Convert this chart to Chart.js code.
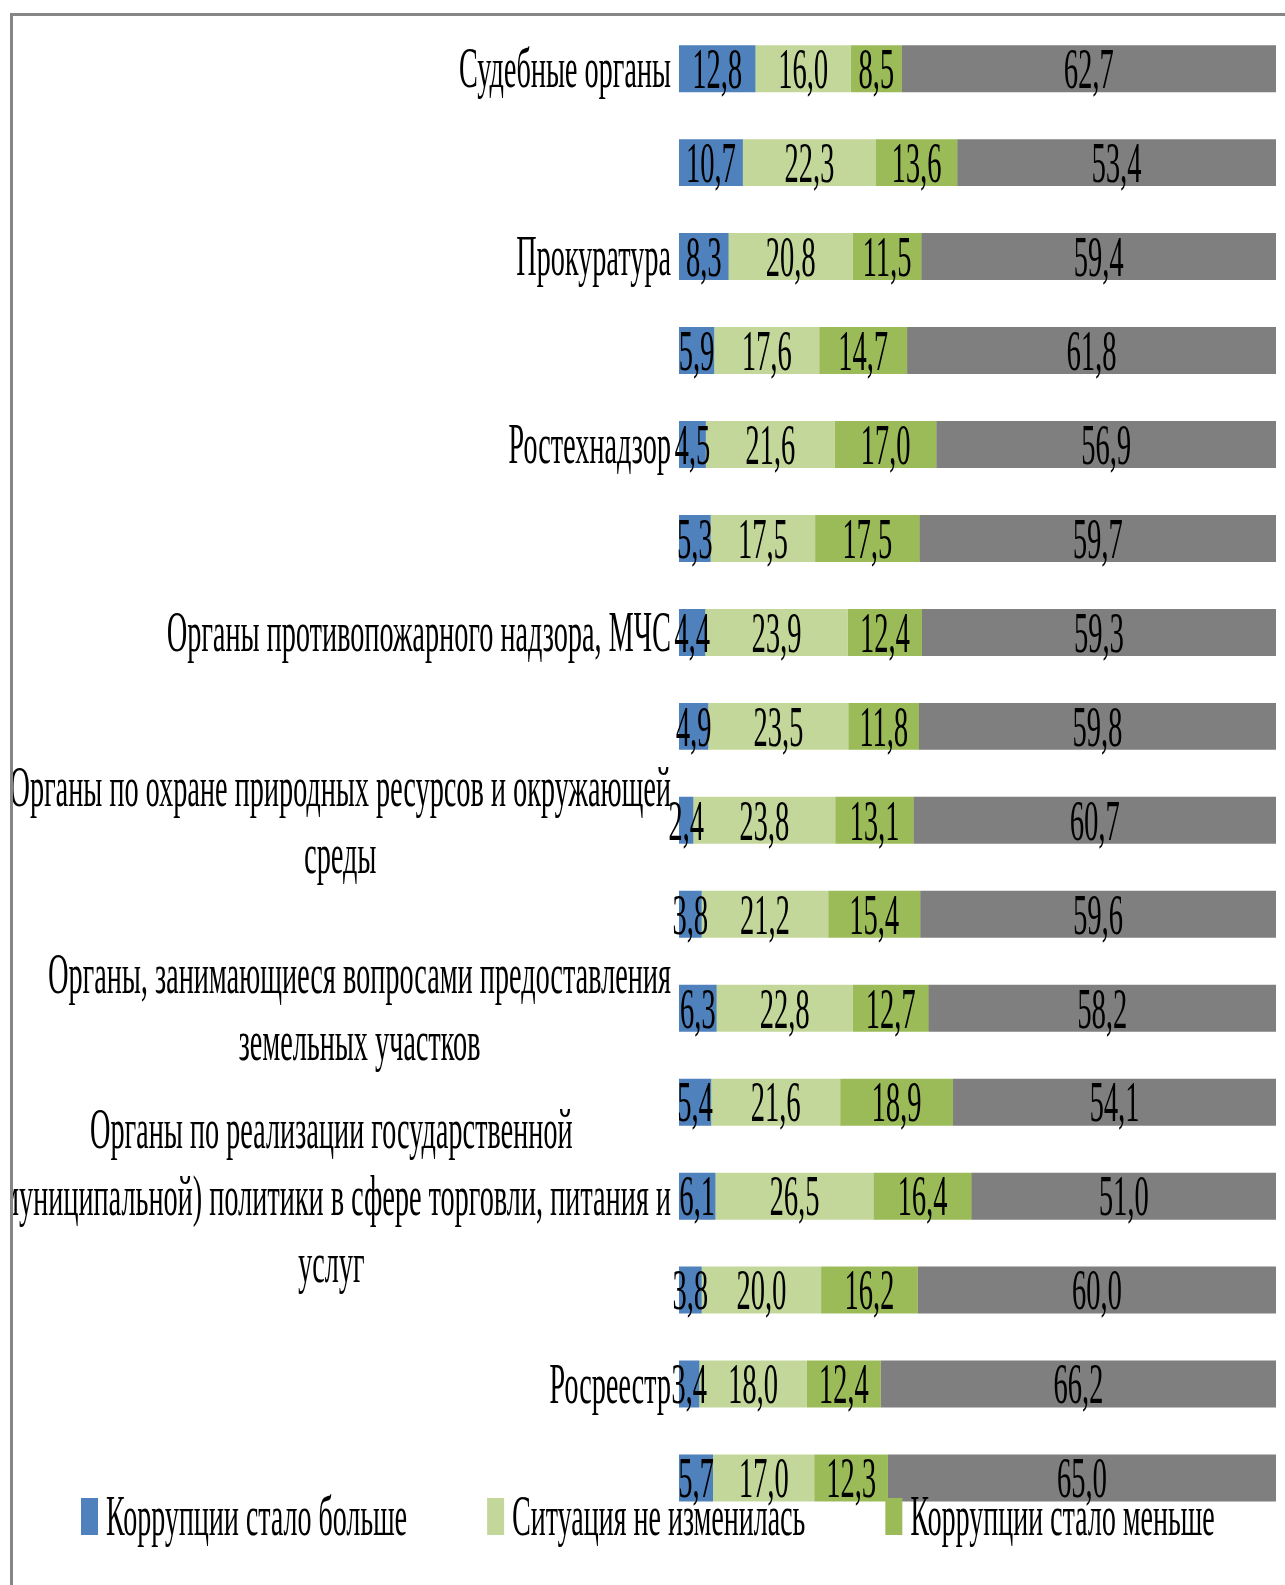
<!DOCTYPE html>
<html>
<head>
<meta charset="utf-8">
<script src="https://cdn.jsdelivr.net/npm/chart.js@4/dist/chart.umd.min.js"></script>
<style>
    html, body { margin: 0; padding: 0; background: #ffffff; }
    body { width: 1285px; height: 1585px; position: relative; overflow: hidden; }
    #frame {
        position: absolute; left: 10px; top: 13px;
        width: 1290px; height: 1590px;
        border-left: 3px solid #868686;
        border-top: 3px solid #868686;
        overflow: hidden;
    }
    #squash {
        position: absolute; left: -13px; top: -16px;
        transform-origin: 0 0;
    }
</style>
</head>
<body>
<div id="frame">
    <div id="squash"><canvas id="corruptionChart"></canvas></div>
</div>
<script>
// ---------------- Data -------------------------------------------------------
const rowLabels = [
    "Судебные органы", "",
    "Прокуратура", "",
    "Ростехнадзор", "",
    "Органы противопожарного надзора, МЧС", "",
    [ "Органы по охране природных ресурсов и окружающей", "среды" ], "",
    [ "Органы, занимающиеся вопросами предоставления", "земельных участков" ], "",
    [ "Органы по реализации государственной",
      "(муниципальной) политики в сфере торговли, питания и", "услуг" ], "",
    "Росреестр", ""
] ;

const seriesNames = [
    "Коррупции стало больше",
    "Ситуация не изменилась",
    "Коррупции стало меньше",
    ""
] ;

const moreCorruption = [ 12.8, 10.7, 8.3, 5.9, 4.5, 5.3, 4.4, 4.9, 2.4, 3.8, 6.3, 5.4, 6.1, 3.8, 3.4, 5.7 ] ;
const noChange       = [ 16.0, 22.3, 20.8, 17.6, 21.6, 17.5, 23.9, 23.5, 23.8, 21.2, 22.8, 21.6, 26.5, 20.0, 18.0, 17.0 ] ;
const lessCorruption = [ 8.5, 13.6, 11.5, 14.7, 17.0, 17.5, 12.4, 11.8, 13.1, 15.4, 12.7, 18.9, 16.4, 16.2, 12.4, 12.3 ] ;
const otherAnswer    = [ 62.7, 53.4, 59.4, 61.8, 56.9, 59.7, 59.3, 59.8, 60.7, 59.6, 58.2, 54.1, 51.0, 60.0, 66.2, 65.0 ] ;

const seriesColors = [ '#4F81BD', '#C4D79B', '#9BBB59', '#7F7F7F' ] ;

// ---------------- Layout -----------------------------------------------------
// the whole picture is squeezed horizontally, so draw wide and squash with CSS
const SX = 0.5 ;
const PAGE_W = 1285 ;
const PAGE_H = 1585 ;
const CANVAS_W = Math.round( PAGE_W / SX ) ;

const FONT = '"Liberation Serif", "Times New Roman", serif' ;
const VALUE_FONT_SIZE  = 57 ;
const LABEL_FONT_SIZE  = 56.5 ;
const LEGEND_FONT_SIZE = 56 ;
const LABEL_LINE_H     = 67 ;

function formatValue( v ) {
    return v.toFixed( 1 ).replace( '.', ',' ) ;
}

// ---------------- Plugins ----------------------------------------------------
const valueLabelsPlugin = {
    id : 'valueLabels',
    afterDatasetsDraw : function( chart ) {
        const ctx = chart.ctx ;
        ctx.save() ;
        ctx.font = VALUE_FONT_SIZE + 'px ' + FONT ;
        ctx.fillStyle = '#000000' ;
        ctx.textAlign = 'center' ;
        ctx.textBaseline = 'alphabetic' ;
        chart.data.datasets.forEach( function( ds, di ) {
            const meta = chart.getDatasetMeta( di ) ;
            meta.data.forEach( function( bar, i ) {
                const p = bar.getProps( [ 'x', 'y', 'base' ], true ) ;
                const cx = ( p.x + p.base ) / 2 ;
                ctx.fillText( formatValue( ds.data[i] ), cx, p.y + 0.338 * VALUE_FONT_SIZE ) ;
            } ) ;
        } ) ;
        ctx.restore() ;
    }
} ;

const rowLabelsPlugin = {
    id : 'rowLabels',
    afterDraw : function( chart ) {
        const ctx = chart.ctx ;
        const yScale = chart.scales.y ;
        const right = chart.chartArea.left - 8 / SX ;
        ctx.save() ;
        ctx.font = LABEL_FONT_SIZE + 'px ' + FONT ;
        ctx.fillStyle = '#000000' ;
        ctx.textAlign = 'center' ;
        ctx.textBaseline = 'alphabetic' ;
        rowLabels.forEach( function( lab, i ) {
            if( !lab ) return ;
            const lines = Array.isArray( lab ) ? lab : [ lab ] ;
            const cy = yScale.getPixelForValue( i ) ;
            var maxW = 0 ;
            lines.forEach( function( l ) {
                maxW = Math.max( maxW, ctx.measureText( l ).width ) ;
            } ) ;
            const cx = right - maxW / 2 ;
            lines.forEach( function( l, k ) {
                const ly = cy + ( k - ( lines.length - 1 ) / 2 ) * LABEL_LINE_H ;
                ctx.fillText( l, cx, ly + 0.331 * LABEL_FONT_SIZE ) ;
            } ) ;
        } ) ;
        ctx.restore() ;
    }
} ;

// legend sits over the bottom bar, as in the original
const legendPlugin = {
    id : 'overlayLegend',
    afterDraw : function( chart ) {
        const ctx = chart.ctx ;
        const boxW = 17 / SX ;
        const boxH = 37 ;
        const gap = 8 / SX ;
        const itemGap = 80 / SX ;
        const cy = 1516.5 ;
        var x = 81 / SX ;
        ctx.save() ;
        ctx.font = LEGEND_FONT_SIZE + 'px ' + FONT ;
        ctx.textAlign = 'left' ;
        ctx.textBaseline = 'alphabetic' ;
        for( var i = 0 ; i < 3 ; i++ ) {
            ctx.fillStyle = seriesColors[i] ;
            ctx.fillRect( x, cy - boxH / 2, boxW, boxH ) ;
            x += boxW + gap ;
            ctx.fillStyle = '#000000' ;
            ctx.fillText( seriesNames[i], x, cy + 0.331 * LEGEND_FONT_SIZE ) ;
            x += ctx.measureText( seriesNames[i] ).width + itemGap ;
        }
        ctx.restore() ;
    }
} ;

// ---------------- Chart ------------------------------------------------------
function makeDataset( idx, values ) {
    return {
        label            : seriesNames[idx],
        data             : values,
        backgroundColor  : seriesColors[idx],
        borderWidth      : 0,
        barPercentage    : 0.5,
        categoryPercentage : 1.0,
    } ;
}

const canvas = document.getElementById( 'corruptionChart' ) ;
canvas.width = CANVAS_W ;
canvas.height = PAGE_H ;
canvas.style.width = CANVAS_W + 'px' ;
canvas.style.height = PAGE_H + 'px' ;
document.getElementById( 'squash' ).style.transform = 'scaleX(' + ( PAGE_W / CANVAS_W ) + ')' ;

new Chart( canvas, {
    type : 'bar',
    data : {
        labels : rowLabels,
        datasets : [
            makeDataset( 0, moreCorruption ),
            makeDataset( 1, noChange ),
            makeDataset( 2, lessCorruption ),
            makeDataset( 3, otherAnswer ),
        ]
    },
    options : {
        indexAxis : 'y',
        responsive : false,
        animation : false,
        devicePixelRatio : 1,
        layout : {
            padding : {
                left   : 679 / SX,
                right  : ( PAGE_W - 1276 ) / SX,
                top    : 21.7,
                bottom : PAGE_H - 1525,
            }
        },
        plugins : {
            legend : { display : false },
            tooltip : { enabled : false },
        },
        scales : {
            x : {
                display : false,
                stacked : true,
                min : 0,
                max : 100,
            },
            y : {
                display : false,
                stacked : true,
            }
        }
    },
    plugins : [ valueLabelsPlugin, rowLabelsPlugin, legendPlugin ]
} ) ;
</script>
</body>
</html>
